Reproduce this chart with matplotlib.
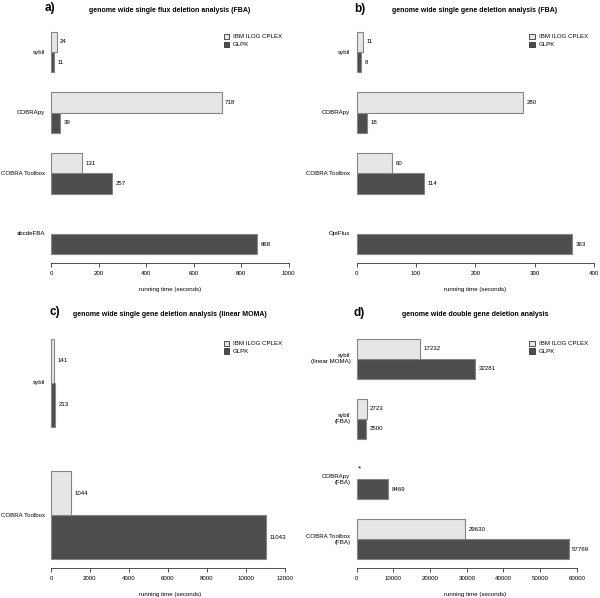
import numpy as np
import matplotlib
matplotlib.use("Agg")
from matplotlib import pyplot as plt
from matplotlib.patches import Patch

plt.rcParams['font.family'] = ['Liberation Sans', 'DejaVu Sans']

# panel a
a_groups = ['sybil', 'COBRApy', 'COBRA Toolbox', 'abcdeFBA']
a_cplex = [24, 718, 131, None]
a_glpk = [11, 39, 257, 868]
a_ticks = [0, 200, 400, 600, 800, 1000]

# panel b
b_groups = ['sybil', 'COBRApy', 'COBRA Toolbox', 'OptFlux']
b_cplex = [11, 280, 60, None]
b_glpk = [8, 18, 114, 363]
b_ticks = [0, 100, 200, 300, 400]

# panel c
c_groups = ['sybil', 'COBRA Toolbox']
c_cplex = [141, 1044]
c_glpk = [213, 11043]
c_ticks = [0, 2000, 4000, 6000, 8000, 10000, 12000]

# panel d
d_groups = ['sybil\n(linear MOMA)', 'sybil\n(FBA)', 'COBRApy\n(FBA)', 'COBRA Toolbox\n(FBA)']
d_cplex = [17232, 2723, None, 29630]
d_glpk = [32281, 2500, 8469, 57769]
d_ticks = [0, 10000, 20000, 30000, 40000, 50000, 60000]

titles = ['genome wide single flux deletion analysis (FBA)',
          'genome wide single gene deletion analysis (FBA)',
          'genome wide single gene deletion analysis (linear MOMA)',
          'genome wide double gene deletion analysis']
letters = ['a)', 'b)', 'c)', 'd)']

W, H = 600, 598
LIGHT = '#e6e6e6'
DARK = '#4d4d4d'
EDGE = '#858585'
FS = 4.4

fig = plt.figure(figsize=(W / 100, H / 100), dpi=100)


def px_axes(x0, y0, w, h):
    return fig.add_axes([x0 / W, 1 - (y0 + h) / H, w / W, h / H])


def panel(x0, y0, y1, groups, cplex, glpk, ticks, xmax, title, letter,
          title_xy, letter_xy, star_missing=False):
    ax = px_axes(x0, y0, 256.6, y1 - y0)
    n = len(groups)
    span = 3 * n - 1
    ax.set_ylim(1 - 0.04 * span, 3 * n + 0.04 * span)
    ax.set_xlim(-0.04 * xmax, 1.04 * xmax)
    for k, g in enumerate(groups):
        i = n - 1 - k
        y_gl = 1.5 + 3 * i
        y_cp = 2.5 + 3 * i
        ax.barh(y_gl, glpk[k], height=1, color=DARK, edgecolor=EDGE, linewidth=0.8)
        ax.annotate(str(glpk[k]), (glpk[k], y_gl), xytext=(2.5, 0),
                    textcoords='offset points', ha='left', va='center', fontsize=FS)
        if cplex[k] is not None:
            ax.barh(y_cp, cplex[k], height=1, color=LIGHT, edgecolor=EDGE, linewidth=0.8)
            ax.annotate(str(cplex[k]), (cplex[k], y_cp), xytext=(2.5, 0),
                        textcoords='offset points', ha='left', va='center', fontsize=FS)
        elif star_missing:
            ax.annotate('*', (0, y_cp), xytext=(0.5, 0),
                        textcoords='offset points', ha='left', va='center', fontsize=6)
        ax.annotate(g, (0, 2 + 3 * i), xytext=(-4.5, 0), textcoords='offset points',
                    ha='right', va='center', fontsize=FS, multialignment='right',
                    linespacing=1.25)
    for s in ['left', 'right', 'top']:
        ax.spines[s].set_visible(False)
    ax.spines['bottom'].set_bounds(ticks[0], ticks[-1])
    ax.spines['bottom'].set_linewidth(0.6)
    ax.spines['bottom'].set_color('#333333')
    ax.set_yticks([])
    ax.set_xticks(ticks)
    ax.set_xticklabels([str(t) for t in ticks])
    ax.tick_params(axis='x', length=3, width=0.6, color='#333333', pad=2.5,
                   labelsize=FS)
    ax.set_xlabel('running time (seconds)', fontsize=FS, labelpad=8)
    ax.legend(handles=[Patch(facecolor=LIGHT, edgecolor='#333333', linewidth=0.6,
                             label='IBM ILOG CPLEX'),
                       Patch(facecolor=DARK, edgecolor='#333333', linewidth=0.6,
                             label='GLPK')],
              loc='upper left', bbox_to_anchor=(0.71, 0.955), frameon=False,
              fontsize=FS, handlelength=0.9, handleheight=0.9, handletextpad=0.6,
              borderpad=0, borderaxespad=0, labelspacing=0.35)
    fig.text(title_xy[0] / W, 1 - title_xy[1] / H, title, ha='center', va='center',
             fontsize=5, fontweight='bold')
    fig.text(letter_xy[0] / W, 1 - letter_xy[1] / H, letter, ha='left', va='center',
             fontsize=8.5, fontweight='bold')
    return ax


panel(41.5, 23, 263, a_groups, a_cplex, a_glpk, a_ticks, 1000,
      titles[0], letters[0], (170, 10), (45, 8))
panel(347.2, 23, 263, b_groups, b_cplex, b_glpk, b_ticks, 400,
      titles[1], letters[1], (475, 10), (354, 9))
panel(41.5, 330, 568, c_groups, c_cplex, c_glpk, c_ticks, 12200,
      titles[2], letters[2], (170, 314), (50, 312))
panel(347.2, 330, 568, d_groups, d_cplex, d_glpk, d_ticks, 64750,
      titles[3], letters[3], (475, 315), (354, 313), star_missing=True)

fig.savefig('out.png', dpi=100)
